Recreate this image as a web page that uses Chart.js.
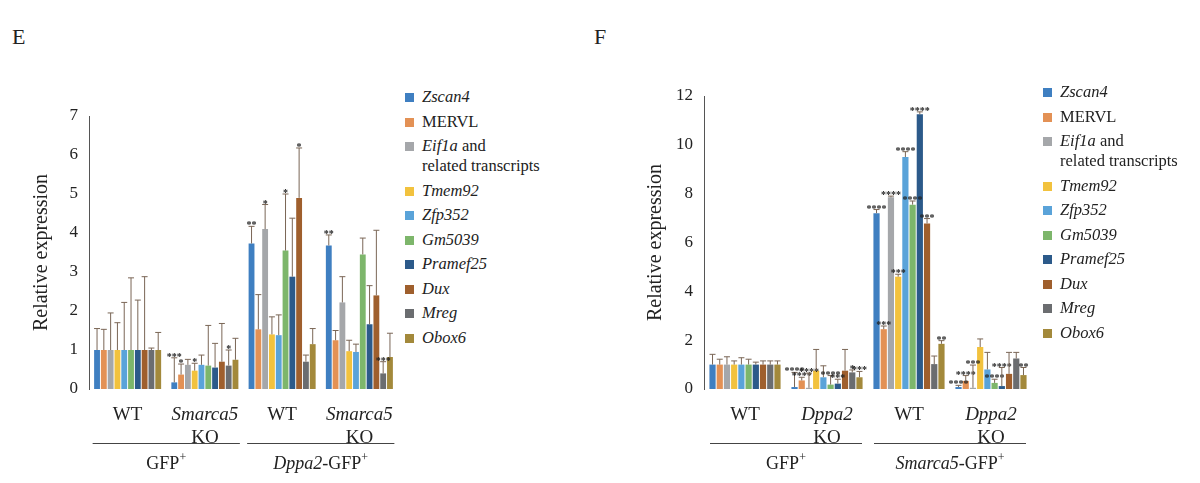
<!DOCTYPE html>
<html><head><meta charset="utf-8">
<script src="https://cdn.jsdelivr.net/npm/chart.js@4"></script>
<style>
body{margin:0;width:1200px;height:483px;background:#fff;position:relative;font-family:"Liberation Serif","Times New Roman",serif;color:#222;overflow:hidden}
canvas{position:absolute;top:0}
.panel{position:absolute;font-size:22px}
.legend{position:absolute;font-size:16.5px;line-height:20px}
.legend div{position:relative;padding-left:17px;margin-bottom:4.5px}
.legend span.sw{position:absolute;left:0;top:6px;width:9px;height:9px}
</style></head><body>
<div class="panel" style="left:12px;top:24px">E</div>
<div class="panel" style="left:594px;top:24px">F</div>
<canvas id="cE" width="400" height="483" style="left:0;width:400px;height:483px"></canvas>
<canvas id="cF" width="445" height="483" style="left:600px;width:445px;height:483px"></canvas>
<div class="legend" id="lE" style="left:405px;top:87px"></div>
<div class="legend" id="lF" style="left:1043px;top:82px"></div>
<script>
const genes = ['Zscan4', 'MERVL', 'Eif1a', 'Tmem92', 'Zfp352', 'Gm5039', 'Pramef25', 'Dux', 'Mreg', 'Obox6']
const colors = ['#3f7fc1', '#e39155', '#a5a7aa', '#f2c23e', '#5aa3d9', '#7db66b', '#2c5a8a', '#9f5f2d', '#6b6d70', '#a3893b']
const groups = ['g1', 'g2', 'g3', 'g4']

// panel E: values per gene across 4 groups, and top of error bar
const eValues = [
  [1, 0.17, 3.73, 3.68], [1, 0.37, 1.53, 1.25], [1, 0.62, 4.1, 2.22], [1, 0.47, 1.4, 0.97], [1, 0.62, 1.38, 0.95],
  [1, 0.6, 3.55, 3.45], [1, 0.55, 2.88, 1.66], [1, 0.7, 4.9, 2.4], [1, 0.6, 0.7, 0.4], [1, 0.75, 1.15, 0.82]
]
const eErrTop = [
  [1.55, 0.8, 4.17, 3.95], [1.53, 0.64, 2.42, 1.5], [1.95, 0.76, 4.73, 2.88], [1.7, 0.66, 1.85, 1.25], [2.22, 0.87, 1.9, 1.15],
  [2.85, 1.63, 5.0, 3.87], [2.28, 1.17, 4.38, 2.65], [2.88, 1.68, 6.18, 4.07], [1.05, 1.0, 0.87, 0.7], [1.45, 1.3, 1.55, 1.43]
]
const eStars = [
  ['', '***', '**', '**'], ['', '*', '', ''], ['', '', '*', ''], ['', '*', '', ''], ['', '', '', ''],
  ['', '', '*', ''], ['', '', '', ''], ['', '', '*', ''], ['', '*', '', '***'], ['', '', '', '']
]

// panel F
const fValues = [
  [1, 0.08, 7.2, 0.08], [1, 0.35, 2.45, 0.33], [1, 0.05, 7.85, 0.05], [1, 0.75, 4.6, 1.72], [1, 0.48, 9.5, 0.8],
  [1, 0.18, 7.55, 0.25], [1, 0.22, 11.25, 0.12], [1, 0.75, 6.78, 0.62], [1, 0.68, 1.02, 1.25], [1, 0.48, 1.85, 0.57]
]
const fErrTop = [
  [1.42, 0.68, 7.35, 0.15], [1.22, 0.48, 2.58, 0.55], [1.32, 0.65, 7.9, 0.98], [1.15, 1.62, 4.7, 2.05], [1.28, 0.95, 9.72, 1.5],
  [1.22, 0.55, 7.7, 0.4], [1.1, 0.4, 11.35, 0.88], [1.15, 1.62, 6.98, 1.5], [1.15, 0.78, 1.35, 1.5], [1.15, 0.72, 1.98, 0.88]
]
const fStars = [
  ['', '****', '****', '****'], ['', '****', '***', '****'], ['', '****', '****', '***'], ['', '', '***', ''], ['', '', '****', ''],
  ['', '****', '****', '****'], ['', '***', '****', '****'], ['', '', '***', ''], ['', '*', '', ''], ['', '***', '**', '**']
]

const eTicks = [0, 1, 2, 3, 4, 5, 6, 7]
const fTicks = [0, 2, 4, 6, 8, 10, 12]

const SERIF = '"Liberation Serif", "Times New Roman", serif'

const extras = {
  id: 'extras',
  afterDatasetsDraw(chart, args, opts) {
    const ctx = chart.ctx
    const y = chart.scales.y
    ctx.save()
    chart.data.datasets.forEach((ds, i) => {
      chart.getDatasetMeta(i).data.forEach((bar, j) => {
        const top = y.getPixelForValue(opts.err[i][j])
        const base = y.getPixelForValue(ds.data[j])
        ctx.strokeStyle = '#7a6656'
        ctx.lineWidth = 1
        ctx.beginPath()
        ctx.moveTo(bar.x, base); ctx.lineTo(bar.x, top)
        ctx.moveTo(bar.x - 3, top); ctx.lineTo(bar.x + 3, top)
        ctx.stroke()
        if (opts.stars[i][j]) {
          ctx.fillStyle = '#222'
          ctx.font = 'bold 10px ' + SERIF
          ctx.textAlign = 'center'
          ctx.fillText(opts.stars[i][j], bar.x, top + 2)
        }
      })
    })
    // category labels
    const x = chart.scales.x
    ctx.fillStyle = '#222'
    ctx.textAlign = 'center'
    const rowY = 420
    opts.cats.forEach((c, j) => {
      const cx = x.getPixelForValue(j)
      ctx.font = (c.italic ? 'italic ' : '') + '19px ' + SERIF
      ctx.fillText(c.top, cx, rowY)
      if (c.bottom) { ctx.font = '19px ' + SERIF; ctx.fillText(c.bottom, cx, rowY + 23) }
    })
    ctx.strokeStyle = '#444'
    opts.sups.forEach((s, k) => {
      const l = x.getPixelForValue(2 * k) - 35
      const r = x.getPixelForValue(2 * k + 1) + 35
      ctx.beginPath(); ctx.moveTo(l, 443.5); ctx.lineTo(r, 443.5); ctx.stroke()
      const cx = (l + r) / 2
      const parts = s.italic ? [[s.italic, 'italic 18px ' + SERIF], ['-GFP', '18px ' + SERIF]] : [['GFP', '18px ' + SERIF]]
      let w = 0
      parts.forEach(p => { ctx.font = p[1]; w += ctx.measureText(p[0]).width })
      ctx.font = '12px ' + SERIF; w += ctx.measureText('+').width
      let px = cx - w / 2
      ctx.textAlign = 'left'
      parts.forEach(p => { ctx.font = p[1]; ctx.fillText(p[0], px, 469); px += ctx.measureText(p[0]).width })
      ctx.font = '12px ' + SERIF; ctx.fillText('+', px, 461)
      ctx.textAlign = 'center'
    })
    ctx.restore()
  }
}

function makeChart(id, values, errTop, stars, ticks, max, padLeft, yWidth, padRight, padTop, cats, sups) {
  new Chart(document.getElementById(id), {
    type: 'bar',
    data: {
      labels: groups,
      datasets: genes.map((g, i) => ({ label: g, data: values[i], backgroundColor: colors[i], categoryPercentage: 0.88, barPercentage: 0.86 }))
    },
    options: {
      responsive: false, animation: false,
      layout: { padding: { top: padTop, bottom: 94, right: padRight, left: padLeft } },
      plugins: { legend: { display: false }, tooltip: { enabled: false }, extras: { err: errTop, stars: stars, cats: cats, sups: sups } },
      scales: {
        x: { display: false },
        y: {
          min: 0, max: max,
          afterFit: s => { s.width = yWidth },
          afterBuildTicks: s => { s.ticks = ticks.map(v => ({ value: v })) },
          grid: { display: false, drawTicks: true, tickLength: 5 },
          border: { color: '#555' },
          ticks: { color: '#222', font: { family: SERIF, size: 17 }, padding: 6 },
          title: { display: true, text: 'Relative expression', color: '#222', font: { family: SERIF, size: 20 }, padding: { top: 0, bottom: 8 } }
        }
      }
    },
    plugins: [extras]
  })
}

makeChart('cE', eValues, eErrTop, eStars, eTicks, 7, 30, 59, 2, 116,
  [{ top: 'WT' }, { top: 'Smarca5', italic: true, bottom: 'KO' }, { top: 'WT' }, { top: 'Smarca5', italic: true, bottom: 'KO' }],
  [{}, { italic: 'Dppa2' }])
makeChart('cF', fValues, fErrTop, fStars, fTicks, 12, 44, 60, 13, 96,
  [{ top: 'WT' }, { top: 'Dppa2', italic: true, bottom: 'KO' }, { top: 'WT' }, { top: 'Dppa2', italic: true, bottom: 'KO' }],
  [{}, { italic: 'Smarca5' }])

function legend(id) {
  const el = document.getElementById(id)
  genes.forEach((g, i) => {
    const d = document.createElement('div')
    const sw = '<span class="sw" style="background:' + colors[i] + '"></span>'
    if (g === 'MERVL') d.innerHTML = sw + g
    else if (g === 'Eif1a') d.innerHTML = sw + '<i>Eif1a</i> and<br>related transcripts'
    else d.innerHTML = sw + '<i>' + g + '</i>'
    el.appendChild(d)
  })
}
legend('lE')
legend('lF')
</script>
</body></html>
